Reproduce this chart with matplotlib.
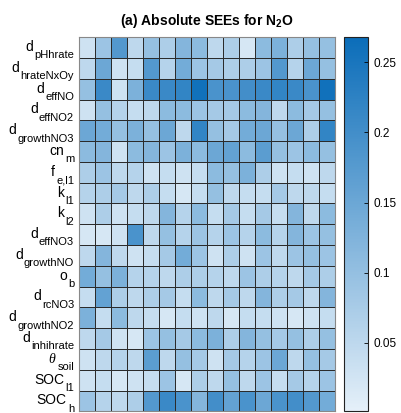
import numpy as np
import matplotlib
matplotlib.use("Agg")
import matplotlib.pyplot as plt
from matplotlib.colors import LinearSegmentedColormap

# ============================================================
# DADOS
# ============================================================

# rótulos das linhas: (letra principal, subscrito)
row_main = ["d", "d", "d", "d", "d", "cn", "f", "k", "k", "d", "d", "o",
            "d", "d", "d", r"$\theta$", "SOC", "SOC"]
row_sub = ["pHhrate", "hrateNxOy", "effNO", "effNO2", "growthNO3", "m",
           "e,l1", "l1", "l2", "effNO3", "growthNO", "b", "rcNO3",
           "growthNO2", "inhihrate", "soil", "l1", "h"]

# uma lista por linha (16 colunas cada)
see_rows = [
    [0.03, 0.09, 0.18, 0.05, 0.10, 0.07, 0.12, 0.11, 0.05, 0.07, 0.02, 0.11, 0.13, 0.07, 0.10, 0.10],
    [0.05, 0.15, 0.03, 0.04, 0.18, 0.06, 0.14, 0.09, 0.08, 0.07, 0.07, 0.09, 0.18, 0.06, 0.15, 0.10],
    [0.10, 0.21, 0.03, 0.13, 0.21, 0.21, 0.22, 0.26, 0.19, 0.19, 0.20, 0.21, 0.22, 0.21, 0.19, 0.26],
    [0.03, 0.10, 0.06, 0.04, 0.05, 0.11, 0.11, 0.09, 0.08, 0.08, 0.11, 0.12, 0.05, 0.11, 0.08, 0.10],
    [0.15, 0.14, 0.10, 0.13, 0.10, 0.15, 0.05, 0.22, 0.10, 0.08, 0.14, 0.15, 0.10, 0.15, 0.07, 0.22],
    [0.11, 0.12, 0.03, 0.11, 0.12, 0.09, 0.13, 0.11, 0.15, 0.16, 0.11, 0.17, 0.10, 0.09, 0.11, 0.10],
    [0.07, 0.09, 0.05, 0.06, 0.03, 0.04, 0.03, 0.04, 0.11, 0.10, 0.13, 0.07, 0.03, 0.04, 0.03, 0.05],
    [0.06, 0.07, 0.08, 0.05, 0.07, 0.04, 0.02, 0.04, 0.10, 0.05, 0.04, 0.04, 0.08, 0.05, 0.05, 0.04],
    [0.03, 0.07, 0.03, 0.04, 0.05, 0.12, 0.06, 0.11, 0.04, 0.08, 0.04, 0.08, 0.04, 0.12, 0.05, 0.11],
    [0.02, 0.02, 0.03, 0.19, 0.05, 0.10, 0.06, 0.09, 0.06, 0.09, 0.06, 0.11, 0.06, 0.12, 0.09, 0.10],
    [0.05, 0.12, 0.05, 0.03, 0.04, 0.08, 0.14, 0.09, 0.03, 0.07, 0.03, 0.09, 0.05, 0.09, 0.10, 0.09],
    [0.14, 0.10, 0.13, 0.06, 0.06, 0.05, 0.07, 0.07, 0.06, 0.05, 0.09, 0.07, 0.06, 0.05, 0.08, 0.07],
    [0.04, 0.16, 0.07, 0.05, 0.07, 0.08, 0.04, 0.11, 0.05, 0.08, 0.05, 0.12, 0.07, 0.08, 0.05, 0.12],
    [0.13, 0.04, 0.11, 0.05, 0.04, 0.02, 0.04, 0.03, 0.05, 0.02, 0.04, 0.04, 0.03, 0.02, 0.03, 0.04],
    [0.05, 0.08, 0.03, 0.02, 0.09, 0.10, 0.08, 0.11, 0.13, 0.07, 0.12, 0.10, 0.08, 0.10, 0.07, 0.10],
    [0.03, 0.05, 0.06, 0.05, 0.17, 0.05, 0.10, 0.08, 0.03, 0.08, 0.06, 0.09, 0.15, 0.05, 0.10, 0.08],
    [0.03, 0.04, 0.02, 0.03, 0.04, 0.09, 0.02, 0.07, 0.05, 0.10, 0.05, 0.09, 0.04, 0.08, 0.06, 0.09],
    [0.09, 0.06, 0.05, 0.07, 0.18, 0.21, 0.19, 0.12, 0.20, 0.16, 0.19, 0.15, 0.19, 0.20, 0.18, 0.14],
]

cbar_ticks = [0.05, 0.1, 0.15, 0.2, 0.25]
cbar_ticklabels = ["0.05", "0.1", "0.15", "0.2", "0.25"]

VMIN = 0.001
VMAX = 0.268

# ============================================================
# ESTILO
# ============================================================

plt.rcParams["font.family"] = ["Liberation Sans", "DejaVu Sans"]
plt.rcParams["mathtext.fontset"] = "custom"
plt.rcParams["mathtext.rm"] = "Liberation Sans"
plt.rcParams["mathtext.it"] = "Liberation Serif:italic"
plt.rcParams["mathtext.bf"] = "Liberation Sans:bold"

cmap = LinearSegmentedColormap.from_list("azul", ["#e5f0f9", "#0b6db9"])

MAIN_SIZE = 10
SUB_SIZE = 8

# ============================================================
# FIGURA
# ============================================================

fig = plt.figure(figsize=(4.02, 4.13), dpi=100)
ax = fig.add_axes([0.196, 0.004, 0.637, 0.906])
cax = fig.add_axes([0.856, 0.004, 0.060, 0.906])

data = np.array(see_rows)
mesh = ax.pcolormesh(data, cmap=cmap, vmin=VMIN, vmax=VMAX,
                     edgecolors="#2b2b2b", linewidth=0.6)
ax.set_xlim(0, data.shape[1])
ax.set_ylim(data.shape[0], 0)
ax.set_xticks([])
ax.set_yticks([])
for s in ax.spines.values():
    s.set_color("#888888")
    s.set_linewidth(0.8)

# rótulos estilo MATLAB (subscrito bem rebaixado)
ytrans = ax.get_yaxis_transform()
for i, (main, sub) in enumerate(zip(row_main, row_sub)):
    yc = i + 0.5
    sub_txt = ax.annotate(sub, xy=(0, yc), xycoords=ytrans,
                          xytext=(-3.4, -7.8), textcoords="offset points",
                          ha="right", va="baseline", fontsize=SUB_SIZE,
                          annotation_clip=False)
    ax.annotate(main, xy=(0, yc), xycoords=(sub_txt, ytrans),
                xytext=(-0.8, -2.5), textcoords="offset points",
                ha="right", va="baseline", fontsize=MAIN_SIZE,
                annotation_clip=False)

ax.set_title(r"(a) Absolute SEEs for N$_{\mathbf{2}}$O", fontsize=10,
             fontweight="bold", pad=9)

cb = fig.colorbar(mesh, cax=cax)
cb.set_ticks(cbar_ticks)
cb.set_ticklabels(cbar_ticklabels)
cb.ax.tick_params(labelsize=8.5, direction="in", length=3, width=0.6)
cb.outline.set_linewidth(0.8)
cb.outline.set_edgecolor("#222222")

fig.savefig("out.png", dpi=100)
